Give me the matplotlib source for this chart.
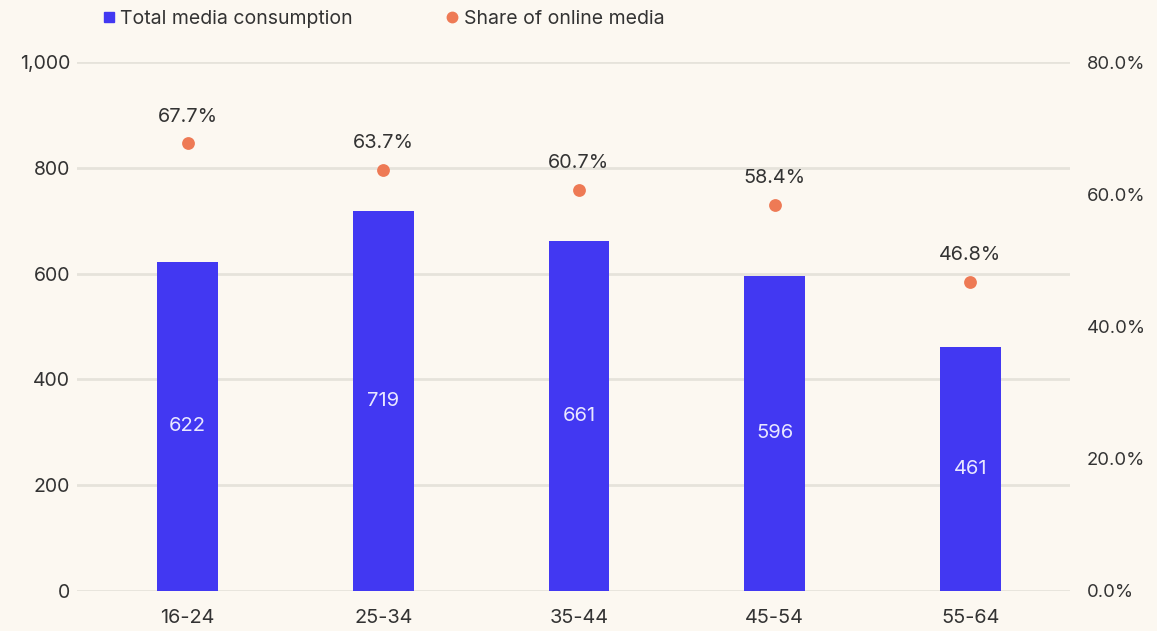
import matplotlib
matplotlib.use("Agg")
import matplotlib.pyplot as plt
from matplotlib.lines import Line2D
from matplotlib.ticker import FuncFormatter

plt.rcParams['font.family'] = ['Inter', 'DejaVu Sans']

age_groups = ["16-24", "25-34", "35-44", "45-54", "55-64"]
total_consumption = [622, 719, 661, 596, 461]
online_share = [67.7, 63.7, 60.7, 58.4, 46.8]
left_ticks = [0, 200, 400, 600, 800, 1000]
right_ticks = [0, 20, 40, 60, 80]

BG = "#FCF8F1"
BLUE = "#4238F2"
ORANGE = "#EE7A55"
TEXT = "#333333"
GRID = "#E6E3DB"

fig = plt.figure(figsize=(11.57, 6.31), dpi=100, facecolor=BG)
ax = fig.add_axes([0.0666, 0.0634, 0.8582, 0.8383])
ax.set_facecolor(BG)
ax2 = ax.twinx()

x = list(range(len(age_groups)))
bars = ax.bar(x, total_consumption, width=0.31, color=BLUE, zorder=3)
for xi, v in zip(x, total_consumption):
    ax.text(xi, v / 2, f"{v}", ha="center", va="center", color="#E9E7FF",
            fontsize=14.5, zorder=4)

ax.set_ylim(0, 1000)
ax.set_yticks(left_ticks)
ax.yaxis.set_major_formatter(FuncFormatter(lambda v, p: f"{int(v):,}"))
ax.set_xlim(-0.565, 4.51)
ax.set_xticks(x)
ax.set_xticklabels(age_groups)
ax.grid(axis="y", color=GRID, linewidth=2, zorder=0)
ax.set_axisbelow(True)
ax.tick_params(axis="y", length=0, pad=5, labelsize=14, labelcolor=TEXT)
ax.tick_params(axis="x", length=0, pad=13, labelsize=14.3, labelcolor=TEXT)

ax2.scatter(x, online_share, s=85, color=ORANGE, zorder=5, linewidths=0)
for xi, v in zip(x, online_share):
    ax2.annotate(f"{v:.1f}%", (xi, v), xytext=(0, 19), textcoords="offset points",
                 ha="center", va="center", fontsize=14.3, color=TEXT)
ax2.set_ylim(0, 80)
ax2.set_yticks(right_ticks)
ax2.yaxis.set_major_formatter(FuncFormatter(lambda v, p: f"{v:.1f}%"))
ax2.tick_params(axis="y", length=0, pad=12, labelsize=13.3, labelcolor=TEXT)

for a in (ax, ax2):
    for s in a.spines.values():
        s.set_visible(False)

handles = [
    Line2D([], [], marker="s", linestyle="none", markersize=7.5, color=BLUE),
    Line2D([], [], marker="o", linestyle="none", markersize=7.5, color=ORANGE),
]
fig.legend(handles, ["Total media consumption", "Share of online media"],
           loc="center left", bbox_to_anchor=(0.0705, 0.97), ncol=2, frameon=False,
           fontsize=14, handletextpad=0.1, columnspacing=4.6, labelcolor=TEXT,
           handlelength=1.0)

fig.savefig("out.png", dpi=100, facecolor=BG)
